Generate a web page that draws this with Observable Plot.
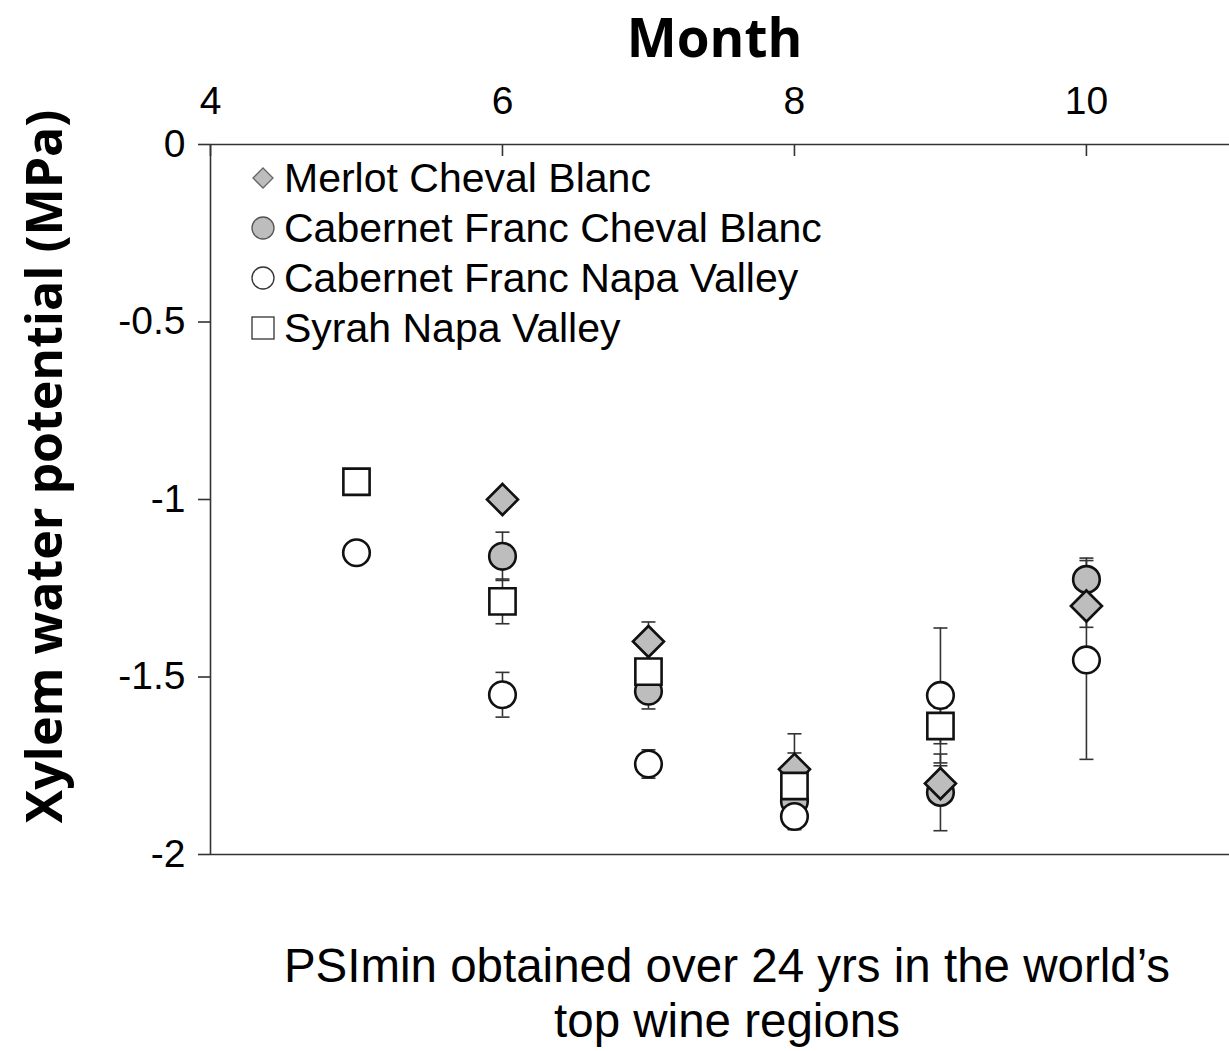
<!DOCTYPE html>
<html>
<head>
<meta charset="utf-8">
<script src="https://cdn.jsdelivr.net/npm/d3@7"></script>
<script src="https://cdn.jsdelivr.net/npm/@observablehq/plot@0.6"></script>
<style>
  html, body { margin: 0; padding: 0; background: #fff; }
  #wrap { position: relative; width: 1229px; height: 1051px; overflow: hidden; }
  #title { height: 70px; line-height: 56px; padding-left: 200px; text-align: center;
           font: 700 53px "Open Sans", sans-serif; color: #000; }
  #chart svg { display: block; }
  #caption { margin-top: 8px; padding-left: 225px; text-align: center; line-height: 54px;
             font: 400 47.5px "Liberation Sans", Arial, sans-serif; color: #000; }
  #legend { position: absolute; left: 248px; top: 153px; font: 400 41px "Liberation Sans", Arial, sans-serif; color: #000; }
  #legend .row { height: 50px; display: flex; align-items: center; }
  #legend svg { width: 30px; height: 30px; margin-right: 6px; flex: none; }
</style>
</head>
<body>
<div id="wrap">
  <div id="title">Month</div>
  <div id="chart"></div>
  <div id="caption">PSImin obtained over 24 yrs in the world’s<br>top wine regions</div>
  <div id="legend"></div>
</div>
<script>
// ---- data ----
const months = [5, 6, 7, 8, 9, 10];
const seriesNames = ["Merlot Cheval Blanc", "Cabernet Franc Cheval Blanc", "Cabernet Franc Napa Valley", "Syrah Napa Valley"];
const merlotCB     = [null, -1.00, -1.40, -1.76, -1.80, -1.30];
const merlotCBErr  = [null, null,  0.055, 0.10, 0.05, 0.06];
const cabFrancCB    = [null, -1.16, -1.54, -1.85, -1.825, -1.225];
const cabFrancCBErr = [null, 0.068, 0.05, 0.08, 0.108, 0.06];
const cabFrancNapa    = [-1.15, -1.55, -1.745, -1.893, -1.552, -1.452];
const cabFrancNapaErr = [null, 0.063, 0.04, 0.03, 0.19, 0.28];
const syrahNapa    = [-0.95, -1.287, -1.485, -1.807, -1.638, null];
const syrahNapaErr = [null, 0.063, 0.03, 0.093, 0.05, null];
const xTicks = [4, 6, 8, 10];
const yTicks = [0, -0.5, -1, -1.5, -2];
const yLabel = "Xylem water potential (MPa)";

// ---- build tidy rows ----
const valueArrays = [merlotCB, cabFrancCB, cabFrancNapa, syrahNapa];
const errArrays = [merlotCBErr, cabFrancCBErr, cabFrancNapaErr, syrahNapaErr];
const rows = [];
seriesNames.forEach((s, si) => {
  months.forEach((m, i) => {
    const v = valueArrays[si][i];
    if (v == null) return;
    rows.push({series: s, month: m, value: v, err: errArrays[si][i]});
  });
});
const errRows = rows.filter(d => d.err != null);
const caps = errRows.flatMap(d => [{month: d.month, y: d.value + d.err}, {month: d.month, y: d.value - d.err}]);
const bySeries = s => rows.filter(d => d.series === s);

const capSymbol = { draw(ctx) { ctx.moveTo(-7, 0); ctx.lineTo(7, 0); } };

const markerStyle = {
  "Merlot Cheval Blanc": {symbol: "diamond2", r: 14, fill: "#bdbdbd"},
  "Cabernet Franc Cheval Blanc": {symbol: "circle", r: 13.3, fill: "#bdbdbd"},
  "Cabernet Franc Napa Valley": {symbol: "circle", r: 13.3, fill: "#ffffff"},
  "Syrah Napa Valley": {symbol: "square", r: 14.8, fill: "#ffffff"}
};
const drawOrder = ["Cabernet Franc Cheval Blanc", "Merlot Cheval Blanc", "Syrah Napa Valley", "Cabernet Franc Napa Valley"];

const axisColor = "#333";
const chart = Plot.plot({
  width: 1229,
  height: 860,
  marginTop: 74,
  marginBottom: 76,
  marginLeft: 210,
  marginRight: 0,
  style: {fontFamily: "'Liberation Sans', Arial, sans-serif", fontSize: "39px", color: "#000", background: "transparent", overflow: "visible"},
  x: {domain: [4, 10.98]},
  y: {domain: [-2, 0]},
  marks: [
    // frame lines
    Plot.ruleY([0, -2], {stroke: axisColor, strokeWidth: 1.6}),
    Plot.ruleX([4], {stroke: axisColor, strokeWidth: 1.6}),
    // top axis ticks (inward) and labels
    Plot.axisX({anchor: "top", ticks: xTicks, tickSize: -11, text: null, label: null, stroke: axisColor, strokeWidth: 1.6}),
    Plot.axisX({anchor: "top", ticks: xTicks, tickSize: 0, tickPadding: 31, tickFormat: d => String(d), fontSize: 39, label: null}),
    // left axis
    Plot.axisY({anchor: "left", ticks: yTicks, tickSize: 12, tickPadding: 13, tickFormat: d => String(d), fontSize: 39, label: null, stroke: axisColor, strokeWidth: 1.6}),
    // y label
    Plot.text([yLabel], {frameAnchor: "left", textAnchor: "middle", rotate: -90, dx: -165, dy: -33, fontSize: 50, fontWeight: "bold", fontFamily: "'Open Sans', sans-serif", fill: "#000"}),
    // error bars
    Plot.ruleX(errRows, {x: "month", y1: d => d.value - d.err, y2: d => d.value + d.err, stroke: "#333", strokeWidth: 1.6}),
    Plot.dot(caps, {x: "month", y: "y", symbol: capSymbol, fill: "none", stroke: "#333", strokeWidth: 1.6}),
    // markers
    ...drawOrder.map(s => Plot.dot(bySeries(s), {
      x: "month", y: "value",
      symbol: markerStyle[s].symbol, r: markerStyle[s].r,
      fill: markerStyle[s].fill, stroke: "#111", strokeWidth: 2.6
    }))
  ]
});
document.getElementById("chart").appendChild(chart);

// ---- legend (HTML overlay) ----
const legendSvg = {
  "Merlot Cheval Blanc": '<path d="M15 5 L25 15 L15 25 L5 15 Z" fill="#bdbdbd" stroke="#666" stroke-width="1.3"/>',
  "Cabernet Franc Cheval Blanc": '<circle cx="15" cy="15" r="11" fill="#bdbdbd" stroke="#555" stroke-width="1.3"/>',
  "Cabernet Franc Napa Valley": '<circle cx="15" cy="15" r="11" fill="#fff" stroke="#333" stroke-width="1.3"/>',
  "Syrah Napa Valley": '<rect x="4" y="4" width="22" height="22" fill="#fff" stroke="#333" stroke-width="1.3"/>'
};
const legend = document.getElementById("legend");
seriesNames.forEach(s => {
  const row = document.createElement("div");
  row.className = "row";
  row.innerHTML = `<svg viewBox="0 0 30 30">${legendSvg[s]}</svg><span>${s}</span>`;
  legend.appendChild(row);
});
</script>
</body>
</html>
